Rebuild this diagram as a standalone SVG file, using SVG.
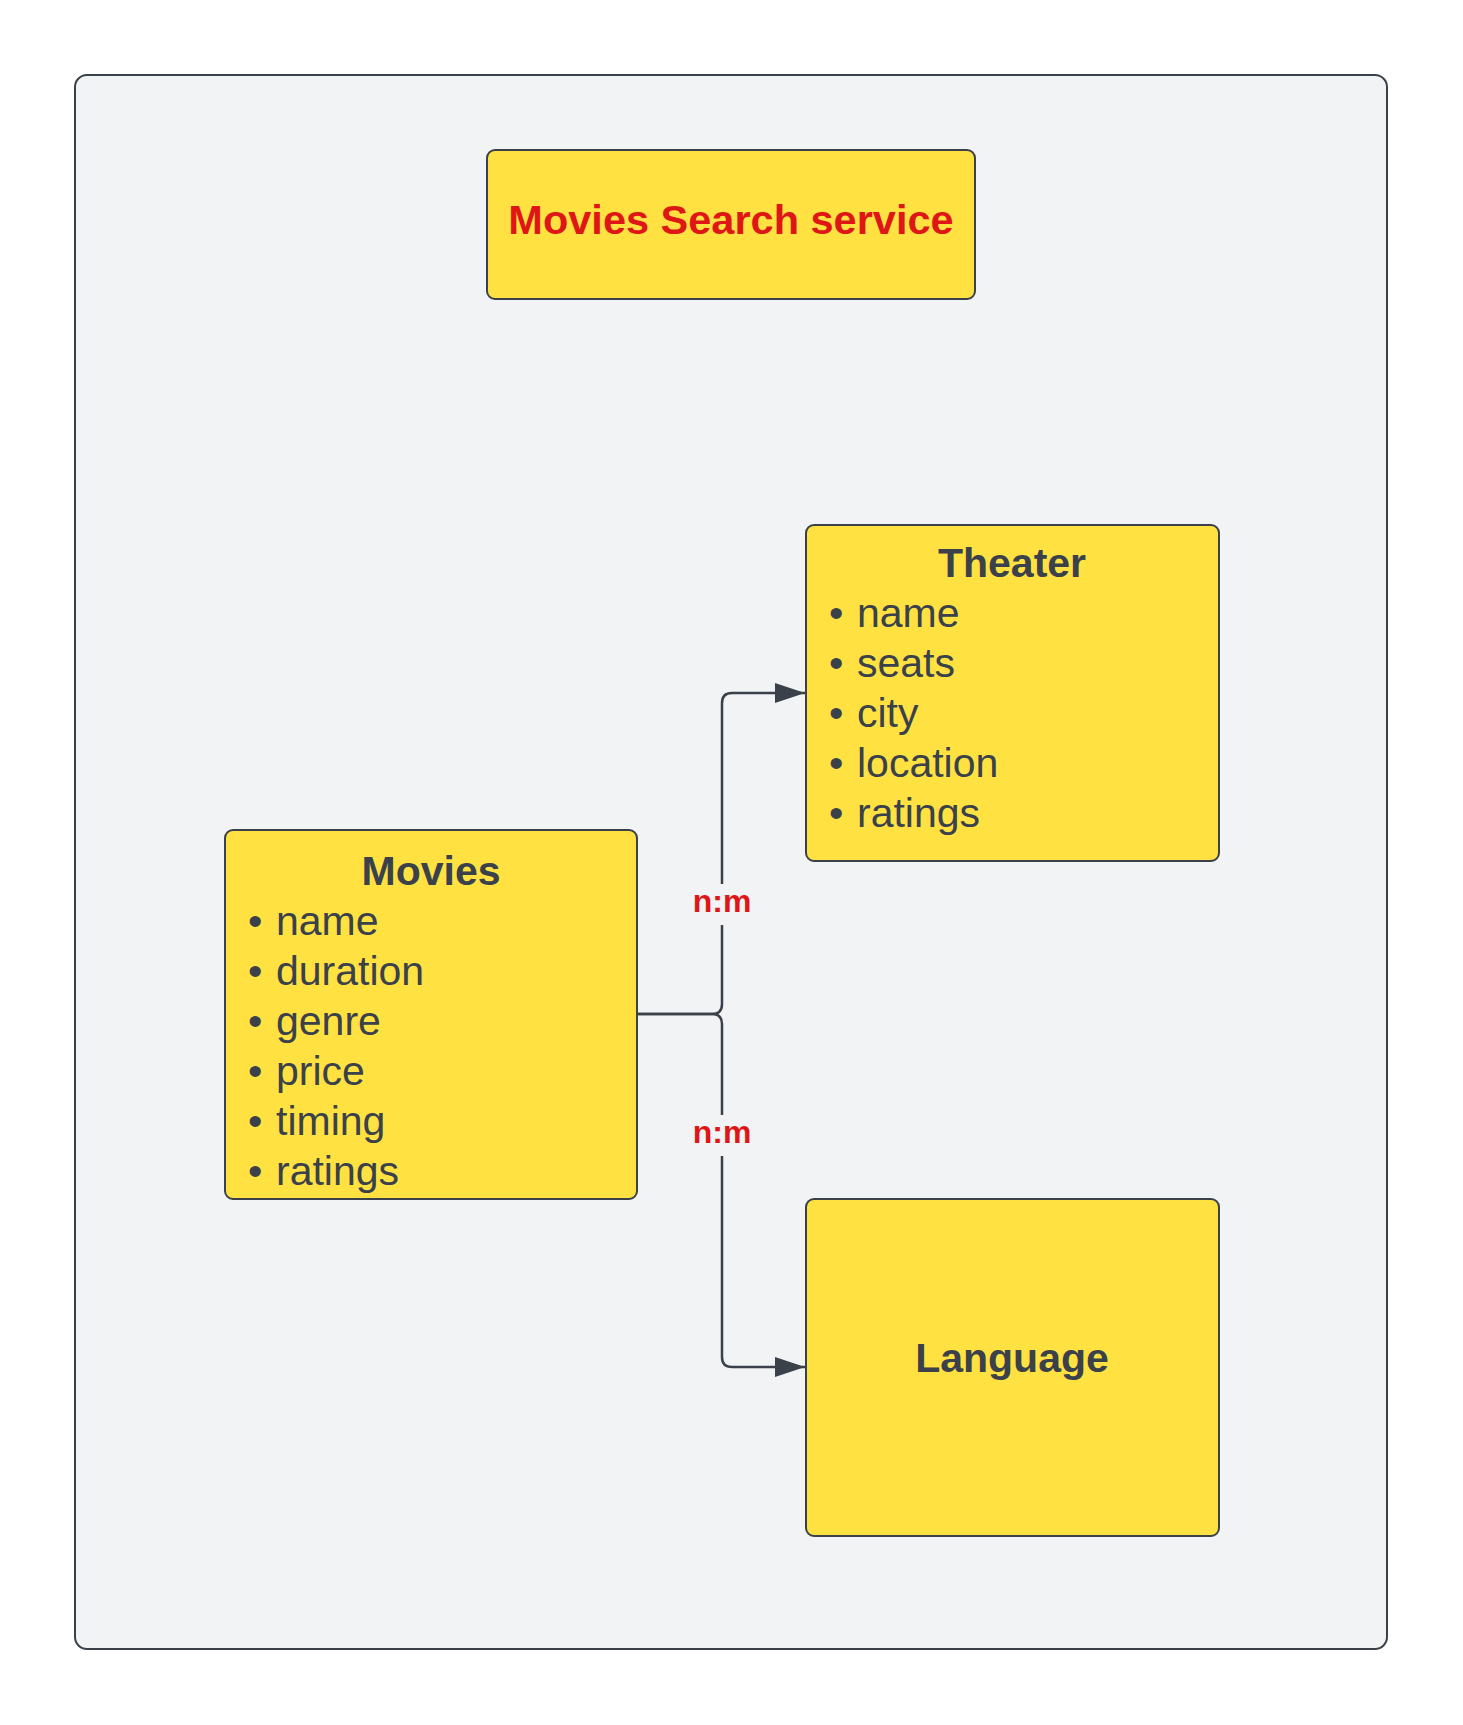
<svg xmlns="http://www.w3.org/2000/svg" width="1463" height="1725" viewBox="0 0 1463 1725">
<style>
.box{fill:#ffe142;stroke:#3a414a;stroke-width:2}
.t{font-family:"Liberation Sans",Arial,sans-serif;fill:#3a414a}
.h{font-weight:bold;font-size:41px;text-anchor:middle}
.li{font-size:41px}
.red{font-family:"Liberation Sans",Arial,sans-serif;font-weight:bold;fill:#df1616;text-anchor:middle}
.conn{fill:none;stroke:#3a414a;stroke-width:2.5}
</style>
<defs>
<marker id="arr" markerWidth="30" markerHeight="20" refX="30" refY="10" orient="auto" markerUnits="userSpaceOnUse">
<path d="M0,0 L30,10 L0,20 Z" fill="#3a414a"/>
</marker>
</defs>
<rect width="1463" height="1725" fill="#ffffff"/>
<g id="frame">
<rect x="75" y="75" width="1312" height="1574" rx="12" fill="#f2f3f5" stroke="#3a414a" stroke-width="2"/>
</g>
<g id="connectors">
<path class="conn" d="M637,1014 H712 Q722,1014 722,1004 V703 Q722,693 732,693 H805" marker-end="url(#arr)"/>
<path class="conn" d="M637,1014 H712 Q722,1014 722,1024 V1357 Q722,1367 732,1367 H805" marker-end="url(#arr)"/>
<rect x="690" y="884" width="64" height="41" fill="#f2f3f5"/>
<text class="red" x="722" y="912" font-size="32">n:m</text>
<rect x="690" y="1115" width="64" height="41" fill="#f2f3f5"/>
<text class="red" x="722" y="1143" font-size="32">n:m</text>
</g>
<g id="title">
<rect class="box" x="487" y="150" width="488" height="149" rx="8"/>
<text class="red" x="731" y="234" font-size="41.5">Movies Search service</text>
</g>
<g id="theater">
<rect class="box" x="806" y="525" width="413" height="336" rx="8"/>
<text class="t h" x="1012" y="577">Theater</text>
<g class="t li">
<text x="829" y="627">•</text><text x="857" y="627">name</text>
<text x="829" y="677">•</text><text x="857" y="677">seats</text>
<text x="829" y="727">•</text><text x="857" y="727">city</text>
<text x="829" y="777">•</text><text x="857" y="777">location</text>
<text x="829" y="827">•</text><text x="857" y="827">ratings</text>
</g>
</g>
<g id="movies">
<rect class="box" x="225" y="830" width="412" height="369" rx="8"/>
<text class="t h" x="431" y="885">Movies</text>
<g class="t li">
<text x="248" y="935">•</text><text x="276" y="935">name</text>
<text x="248" y="985">•</text><text x="276" y="985">duration</text>
<text x="248" y="1035">•</text><text x="276" y="1035">genre</text>
<text x="248" y="1085">•</text><text x="276" y="1085">price</text>
<text x="248" y="1135">•</text><text x="276" y="1135">timing</text>
<text x="248" y="1185">•</text><text x="276" y="1185">ratings</text>
</g>
</g>
<g id="language">
<rect class="box" x="806" y="1199" width="413" height="337" rx="8"/>
<text class="t h" x="1012" y="1372">Language</text>
</g>
</svg>
